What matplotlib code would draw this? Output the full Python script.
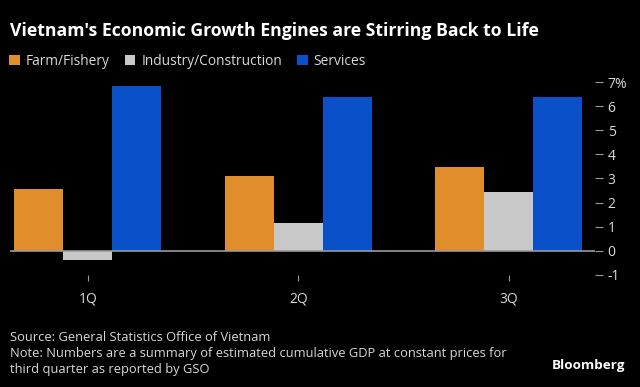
import matplotlib.pyplot as plt
import numpy as np

quarters = ['1Q', '2Q', '3Q']
farm = [2.55, 3.1, 3.46]
industry = [-0.39, 1.14, 2.42]
services = [6.85, 6.38, 6.38]
yticks = [-1, 0, 1, 2, 3, 4, 5, 6, 7]
ylabels = ['-1', '0', '1', '2', '3', '4', '5', '6', '7%']

plt.rcParams['font.family'] = ['Open Sans', 'DejaVu Sans']
bg = 'black'
txt = '#d9d9d9'
colors = ['#E08E2B', '#C8C8C8', '#0A50C8']
names = ['Farm/Fishery', 'Industry/Construction', 'Services']

fig = plt.figure(figsize=(6.4, 3.87), dpi=100, facecolor=bg)
ax = fig.add_axes([0.0156, 0.2744, 0.9144, 0.5323], facecolor=bg)

x = np.arange(len(quarters))
w = 0.233
for i, (vals, c, n) in enumerate(zip([farm, industry, services], colors, names)):
    ax.bar(x + (i - 1) * w, vals, w, color=c, label=n, zorder=2)

ax.axhline(0, color='#9a9a9a', lw=1.2, zorder=3)
ax.set_xlim(-0.37, 2.41)
ax.set_ylim(-1.25, 7.3)

ax.yaxis.tick_right()
ax.set_yticks(yticks)
ax.set_yticklabels(ylabels)
ax.set_xticks(x)
ax.set_xticklabels(quarters)
ax.tick_params(axis='y', colors='#9a9a9a', labelcolor=txt, length=6, width=0.8,
               labelsize=10, pad=3)
ax.tick_params(axis='x', colors='#9a9a9a', labelcolor=txt, length=4, width=0.8,
               direction='in', labelsize=10, pad=8)
for s in ax.spines.values():
    s.set_visible(False)

fig.text(0.016, 0.92, "Vietnam's Economic Growth Engines are Stirring Back to Life",
         color='white', fontsize=12.7, fontweight='bold', va='center')

fig.legend(loc='center left', bbox_to_anchor=(0.006, 0.842), ncol=3, frameon=False,
           handlelength=0.75, handleheight=0.75, handletextpad=0.45, columnspacing=1.1,
           fontsize=9.9, labelcolor=txt, borderaxespad=0)

fig.text(0.016, 0.128, 'Source: General Statistics Office of Vietnam', color=txt, fontsize=9.3, va='center')
fig.text(0.016, 0.087, 'Note: Numbers are a summary of estimated cumulative GDP at constant prices for',
         color=txt, fontsize=9.3, va='center')
fig.text(0.016, 0.046, 'third quarter as reported by GSO', color=txt, fontsize=9.3, va='center')
fig.text(0.977, 0.055, 'Bloomberg', color='white', fontsize=9.7, fontweight='bold',
         ha='right', va='center')

fig.savefig('out.png', facecolor=bg)
